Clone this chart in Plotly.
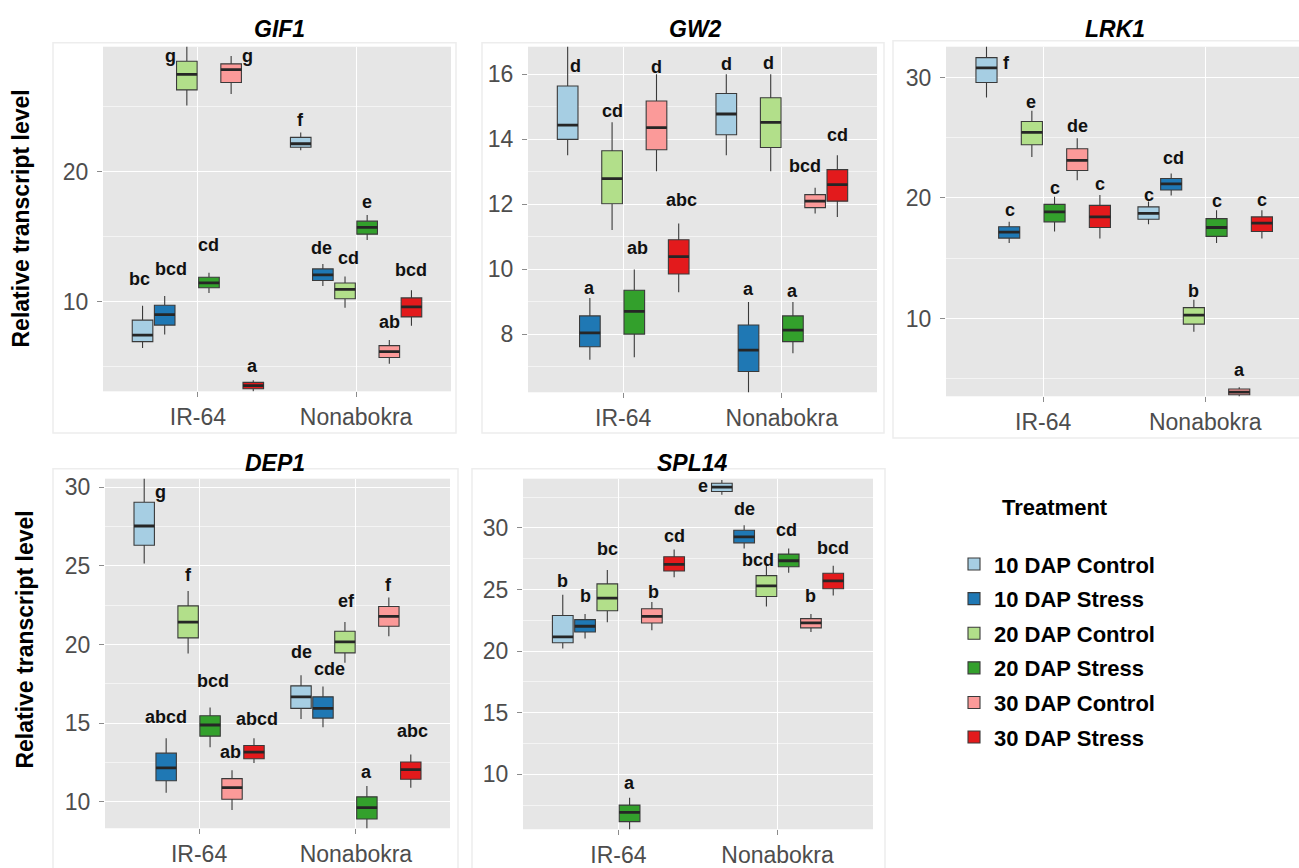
import plotly.graph_objects as go

# ---------------------------------------------------------------- data
genotypes = ["IR-64", "Nonabokra"]
treatments = ["10 DAP Control", "10 DAP Stress", "20 DAP Control",
              "20 DAP Stress", "30 DAP Control", "30 DAP Stress"]
treatment_colors = ["#A6CEE3", "#1F78B4", "#B2DF8A", "#33A02C", "#FB9A99", "#E31A1C"]

# each row is one treatment: [IR-64, Nonabokra]
gif1_lower = [[6.45, 21.66], [7.50, 11.22], [25.10, 9.56], [10.69, 14.76], [25.98, 5.24], [3.10, 8.17]]
gif1_q1 = [[6.95, 21.89], [8.22, 11.65], [26.30, 10.25], [11.09, 15.21], [26.87, 5.73], [3.33, 8.85]]
gif1_median = [[7.45, 22.16], [9.03, 12.08], [27.50, 10.97], [11.47, 15.73], [27.86, 6.18], [3.56, 9.62]]
gif1_q3 = [[8.60, 22.65], [9.75, 12.54], [28.50, 11.45], [11.90, 16.21], [28.30, 6.64], [3.82, 10.31]]
gif1_upper = [[9.70, 23.03], [10.45, 12.92], [30.50, 11.96], [12.24, 16.69], [28.90, 7.08], [3.97, 10.89]]
gif1_letters = [["bc", "f"], ["bcd", "de"], ["g", "cd"], ["cd", "e"], ["g", "ab"], ["a", "bcd"]]

gw2_lower = [[13.51, 13.51], [7.22, 6.00], [11.21, 13.02], [7.30, 7.42], [13.02, 11.72], [9.30, 11.61]]
gw2_q1 = [[14.00, 14.14], [7.62, 6.86], [12.02, 13.75], [8.01, 7.78], [13.68, 11.90], [9.86, 12.10]]
gw2_median = [[14.44, 14.78], [8.05, 7.52], [12.79, 14.52], [8.71, 8.13], [14.36, 12.10], [10.39, 12.61]]
gw2_q3 = [[15.64, 15.41], [8.57, 8.29], [13.65, 15.28], [9.36, 8.57], [15.18, 12.30], [10.91, 13.07]]
gw2_upper = [[17.20, 16.00], [9.12, 9.00], [14.53, 16.00], [10.00, 9.00], [16.00, 12.51], [11.41, 13.51]]
gw2_letters = [["d", "d"], ["a", "a"], ["cd", "d"], ["ab", "a"], ["d", "bcd"], ["abc", "cd"]]

lrk1_lower = [[28.35, 17.82], [16.26, 20.21], [23.40, 8.90], [17.22, 16.26], [21.48, 3.40], [16.64, 16.64]]
lrk1_q1 = [[29.59, 18.24], [16.67, 20.66], [24.42, 9.53], [18.02, 16.81], [22.28, 3.67], [17.55, 17.22]]
lrk1_median = [[30.80, 18.73], [17.16, 21.18], [25.44, 10.27], [18.85, 17.55], [23.13, 3.89], [18.43, 17.91]]
lrk1_q3 = [[31.65, 19.26], [17.61, 21.62], [26.35, 10.90], [19.47, 18.29], [24.09, 4.14], [19.39, 18.43]]
lrk1_upper = [[32.80, 19.70], [18.02, 22.03], [27.25, 11.56], [20.11, 18.98], [24.97, 4.28], [20.25, 18.98]]
lrk1_letters = [["f", "c"], ["c", "cd"], ["e", "b"], ["c", "c"], ["de", "a"], ["c", "c"]]

dep1_lower = [[25.16, 15.26], [10.57, 14.74], [19.43, 18.84], [13.47, 8.00], [9.47, 20.53], [12.46, 10.88]]
dep1_q1 = [[26.32, 15.94], [11.33, 15.32], [20.42, 19.47], [14.17, 8.90], [10.16, 21.16], [12.73, 11.43]]
dep1_median = [[27.54, 16.67], [12.15, 15.94], [21.43, 20.17], [14.88, 9.62], [10.90, 21.79], [13.16, 12.04]]
dep1_q3 = [[29.05, 17.37], [13.09, 16.67], [22.46, 20.84], [15.47, 10.31], [11.47, 22.42], [13.58, 12.53]]
dep1_upper = [[31.00, 18.04], [14.04, 17.33], [23.41, 21.43], [16.00, 11.00], [12.00, 22.99], [14.04, 13.00]]
dep1_letters = [["g", "de"], ["abcd", "cde"], ["f", "ef"], ["bcd", "a"], ["ab", "f"], ["abcd", "abc"]]

spl14_lower = [[20.22, 32.69], [21.02, 28.34], [22.34, 23.63], [5.20, 26.37], [21.69, 21.56], [26.00, 24.52]]
spl14_q1 = [[20.68, 32.96], [21.56, 28.79], [23.28, 24.44], [6.16, 26.85], [22.29, 21.89], [26.51, 25.06]]
spl14_median = [[21.16, 33.31], [22.02, 29.27], [24.30, 25.30], [6.91, 27.34], [22.82, 22.29], [27.05, 25.70]]
spl14_q3 = [[22.90, 33.63], [22.56, 29.81], [25.46, 26.13], [7.50, 27.88], [23.44, 22.64], [27.66, 26.32]]
spl14_upper = [[24.57, 33.90], [23.01, 30.22], [26.59, 26.99], [8.10, 28.34], [23.98, 23.01], [28.26, 26.94]]
spl14_letters = [["b", "e"], ["b", "de"], ["bc", "bcd"], ["a", "cd"], ["b", "b"], ["cd", "bcd"]]

# ---------------------------------------------------------------- label nudges (px) relative to the upper whisker
gif1_nudge = [[(-3, 27), (0, 12)], [(6, 27), (-1, 16)], [(-16, -21), (3, 18)],
              [(0, 28), (0, 13)], [(16, 0), (0, 18)], [(-1, 14), (0, 20)]]
gw2_nudge = [[(8, -31), (0, 10)], [(0, 10), (0, 13)], [(0, 11), (-2, 11)],
             [(3, 21), (0, 11)], [(0, 7), (-10, 22)], [(3, 24), (0, 20)]]
lrk1_nudge = [[(20, -19), (0, 7)], [(1, 12), (2, 16)], [(-1, 9), (0, 9)],
              [(0, 9), (0, 9)], [(0, 12), (0, 17)], [(0, 11), (0, 10)]]
dep1_nudge = [[(16, -21), (0, 23)], [(0, 21), (7, 17)], [(0, 16), (2, 21)],
              [(3, 26), (0, 14)], [(-2, 18), (0, 13)], [(3, 19), (2, 24)]]
spl14_nudge = [[(0, 14), (-19, -6)], [(0, 18), (0, 16)], [(0, 21), (-8, 5)],
               [(0, 15), (-2, 18)], [(2, 10), (0, 18)], [(0, 13), (0, 18)]]

# ---------------------------------------------------------------- page geometry
W, H = 1299, 868
FONT = "Liberation Sans, Arial, sans-serif"
BOXGAP, BOXGROUPGAP = 0.16, 0.07
SLOT = (1 - BOXGAP) / len(treatments)


def fx(p):
    return p / W


def fy(p):
    return 1 - p / H


panels = [
    dict(name="GIF1", stats=(gif1_lower, gif1_q1, gif1_median, gif1_q3, gif1_upper),
         letters=gif1_letters, nudge=gif1_nudge, xdom=(103, 451), ydom=(43, 390),
         yrange=(3.13, 29.62), dtick=10, minor=5, title=(279, 25), ytitle=(21, 216), xmax=1.6),
    dict(name="GW2", stats=(gw2_lower, gw2_q1, gw2_median, gw2_q3, gw2_upper),
         letters=gw2_letters, nudge=gw2_nudge, xdom=(528, 877), ydom=(43, 391),
         yrange=(6.22, 16.85), dtick=2, minor=1, title=(695, 25), ytitle=None, xmax=1.6),
    dict(name="LRK1", stats=(lrk1_lower, lrk1_q1, lrk1_median, lrk1_q3, lrk1_upper),
         letters=lrk1_letters, nudge=lrk1_nudge, xdom=(946, 1299), ydom=(43, 395),
         yrange=(3.54, 32.56), dtick=10, minor=5, title=(1115, 25), ytitle=None, xmax=1.579),
    dict(name="DEP1", stats=(dep1_lower, dep1_q1, dep1_median, dep1_q3, dep1_upper),
         letters=dep1_letters, nudge=dep1_nudge, xdom=(105, 450), ydom=(478, 830),
         yrange=(8.31, 30.55), dtick=5, minor=2.5, title=(275, 462), ytitle=(25, 640), xmax=1.6),
    dict(name="SPL14", stats=(spl14_lower, spl14_q1, spl14_median, spl14_q3, spl14_upper),
         letters=spl14_letters, nudge=spl14_nudge, xdom=(523, 873), ydom=(478, 831),
         yrange=(5.54, 34.0), dtick=5, minor=2.5, title=(692, 462), ytitle=None, xmax=1.6),
]

# faint frames around each panel
frames = [(53, 39, 456, 432), (482, 39, 884, 432), (893, 37, 1305, 437),
          (53, 468, 458, 875), (472, 468, 885, 875)]

fig = go.Figure()
annotations = []
layout_axes = {}

for pi, p in enumerate(panels):
    sfx = "" if pi == 0 else str(pi + 1)
    xref, yref = "x" + sfx, "y" + sfx
    lower, q1, med, q3, upper = p["stats"]
    r0, r1 = p["yrange"]
    px_per_unit = (p["ydom"][1] - p["ydom"][0]) / (r1 - r0)

    for ti, tname in enumerate(treatments):
        fig.add_trace(go.Box(
            name=tname, x=genotypes,
            lowerfence=lower[ti], q1=q1[ti], median=med[ti], q3=q3[ti], upperfence=upper[ti],
            fillcolor=treatment_colors[ti],
            line=dict(color="#3A3A3A", width=1.1),
            whiskerwidth=0, offsetgroup=str(ti), alignmentgroup=p["name"],
            legendgroup=tname, showlegend=(pi == 0),
            xaxis=xref, yaxis=yref, hoverinfo="skip",
        ))
        # thick median bar drawn on top of the box
        fig.add_trace(go.Box(
            name=tname, x=genotypes,
            lowerfence=med[ti], q1=med[ti], median=med[ti], q3=med[ti], upperfence=med[ti],
            fillcolor="rgba(0,0,0,0)",
            line=dict(color="#262626", width=2.8),
            whiskerwidth=0, offsetgroup=str(ti), alignmentgroup=p["name"],
            legendgroup=tname, showlegend=False,
            xaxis=xref, yaxis=yref, hoverinfo="skip",
        ))
        # significance letters above each box; anchor on the box top when the
        # whisker runs past the visible range so the label is not dropped
        for gi in range(len(genotypes)):
            dx, dy = p["nudge"][ti][gi]
            anchor = upper[ti][gi]
            if anchor > r1:
                anchor = q3[ti][gi]
                dy += (upper[ti][gi] - anchor) * px_per_unit
            annotations.append(dict(
                x=gi + (ti - 2.5) * SLOT, y=anchor, xref=xref, yref=yref,
                text="<b>%s</b>" % p["letters"][ti][gi], showarrow=False,
                xanchor="center", yanchor="middle", xshift=dx, yshift=dy,
                font=dict(family=FONT, size=18, color="#111111"),
            ))

    x0, x1 = p["xdom"]
    y0, y1 = p["ydom"]
    layout_axes["xaxis" + sfx] = dict(
        domain=[fx(x0), fx(x1)], anchor=yref, type="category",
        categoryorder="array", categoryarray=genotypes,
        range=[-0.6, p["xmax"]], showgrid=True, gridcolor="white", gridwidth=1.2,
        zeroline=False, ticks="outside", ticklen=5, tickcolor="#8C8C8C", tickwidth=1.2,
        tickfont=dict(family=FONT, size=23, color="#4D4D4D"), ticklabelstandoff=0,
        showline=False,
    )
    layout_axes["yaxis" + sfx] = dict(
        domain=[fy(y1), fy(y0)], anchor=xref, range=list(p["yrange"]),
        dtick=p["dtick"], tick0=0, showgrid=True, gridcolor="white", gridwidth=1.2,
        minor=dict(dtick=p["minor"], tick0=0, showgrid=True, gridcolor="#F4F4F4",
                   gridwidth=0.7, ticks=""),
        zeroline=False, ticks="outside", ticklen=5, tickcolor="#8C8C8C", tickwidth=1.2,
        tickfont=dict(family=FONT, size=23, color="#4D4D4D"), ticklabelstandoff=4,
        showline=False,
    )

    tx, ty = p["title"]
    annotations.append(dict(
        x=fx(tx), y=fy(ty), xref="paper", yref="paper", showarrow=False,
        text="<b><i>%s</i></b>" % p["name"], xanchor="center", yanchor="middle",
        font=dict(family=FONT, size=23, color="#000000"),
    ))
    if p["ytitle"]:
        ax, ay = p["ytitle"]
        annotations.append(dict(
            x=fx(ax), y=fy(ay), xref="paper", yref="paper", showarrow=False,
            text="<b>Relative transcript level</b>", textangle=-90,
            xanchor="center", yanchor="middle",
            font=dict(family=FONT, size=23, color="#000000"),
        ))

annotations.append(dict(
    x=fx(1000), y=fy(507), xref="paper", yref="paper", showarrow=False,
    text="<b>Treatment</b>", xanchor="left", yanchor="middle",
    font=dict(family=FONT, size=22, color="#000000"),
))

shapes = [dict(type="rect", xref="paper", yref="paper",
               x0=fx(a), y0=fy(d), x1=fx(c), y1=fy(b),
               line=dict(color="#EDEDED", width=1.5), layer="below")
          for a, b, c, d in frames]

fig.update_layout(
    width=W, height=H, margin=dict(l=0, r=0, t=0, b=0),
    paper_bgcolor="white", plot_bgcolor="#E6E6E6",
    boxmode="group", boxgap=BOXGAP, boxgroupgap=BOXGROUPGAP,
    annotations=annotations, shapes=shapes,
    legend=dict(x=fx(954), y=fy(543), xanchor="left", yanchor="top",
                font=dict(family=FONT, size=22, color="#000000", weight="bold"),
                bgcolor="rgba(0,0,0,0)", tracegroupgap=3, traceorder="grouped",
                itemclick=False, itemdoubleclick=False),
    font=dict(family=FONT),
    **layout_axes,
)

fig.write_html("out.html")
